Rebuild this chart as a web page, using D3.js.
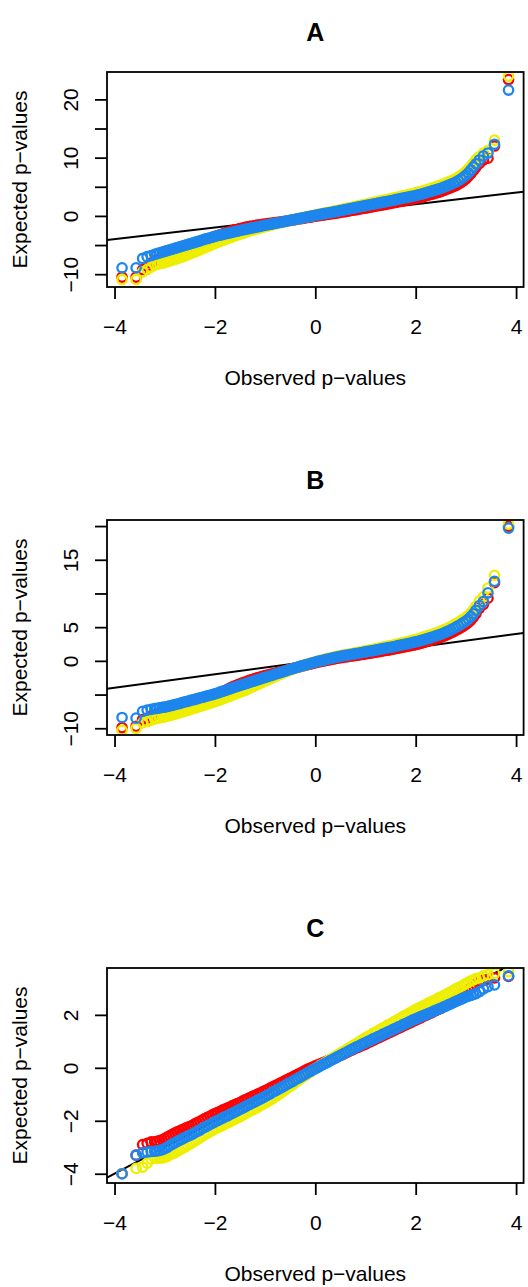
<!DOCTYPE html>
<html>

<head>
  <meta charset="utf-8">
  <title>QQ plots A B C</title>
  <script src="https://d3js.org/d3.v7.min.js"></script>
  <style type="text/css">
    body {
      margin: 0;
      background: #fff;
    }

    svg {
      font-family: "Liberation Sans", Arial, Helvetica, sans-serif;
    }
  </style>
</head>

<body>
  <div id="chart"></div>

  <script type="text/javascript">
    // theoretical normal quantiles (shared x for every series)
    var theoretical = [-3.85, -3.57, -3.44, -3.35, -3.27,
      -3.20, -3.15, -3.10, -3.05, -3.00, -2.95, -2.90, -2.85, -2.80, -2.75,
      -2.70, -2.65, -2.60, -2.55, -2.50, -2.45, -2.40, -2.35, -2.30, -2.25,
      -2.20, -2.15, -2.10, -2.05, -2.00, -1.95, -1.90, -1.85, -1.80, -1.75,
      -1.70, -1.65, -1.60, -1.55, -1.50, -1.45, -1.40, -1.35, -1.30, -1.25,
      -1.20, -1.15, -1.10, -1.05, -1.00, -0.95, -0.90, -0.85, -0.80, -0.75,
      -0.70, -0.65, -0.60, -0.55, -0.50, -0.45, -0.40, -0.35, -0.30, -0.25,
      -0.20, -0.15, -0.10, -0.05, 0.00, 0.05, 0.10, 0.15, 0.20, 0.25,
      0.30, 0.35, 0.40, 0.45, 0.50, 0.55, 0.60, 0.65, 0.70, 0.75,
      0.80, 0.85, 0.90, 0.95, 1.00, 1.05, 1.10, 1.15, 1.20, 1.25,
      1.30, 1.35, 1.40, 1.45, 1.50, 1.55, 1.60, 1.65, 1.70, 1.75,
      1.80, 1.85, 1.90, 1.95, 2.00, 2.05, 2.10, 2.15, 2.20, 2.25,
      2.30, 2.35, 2.40, 2.45, 2.50, 2.55, 2.60, 2.65, 2.70, 2.75,
      2.80, 2.85, 2.90, 2.95, 3.00, 3.05, 3.10, 3.15, 3.20,
      3.27, 3.35, 3.44, 3.57, 3.85];

    // panel A
    var redA = [-10.5, -10.5, -9.2, -8.6, -8.1,
      -7.70, -7.56, -7.40, -7.26, -7.10, -6.93, -6.76, -6.59, -6.42, -6.24,
      -6.06, -5.89, -5.71, -5.53, -5.35, -5.17, -4.98, -4.80, -4.62, -4.43,
      -4.25, -4.08, -3.90, -3.73, -3.55, -3.40, -3.25, -3.10, -2.95, -2.81,
      -2.67, -2.54, -2.40, -2.29, -2.17, -2.07, -1.97, -1.89, -1.81, -1.74,
      -1.66, -1.59, -1.53, -1.46, -1.40, -1.34, -1.28, -1.22, -1.16, -1.10,
      -1.04, -0.98, -0.92, -0.85, -0.78, -0.71, -0.63, -0.56, -0.49, -0.42,
      -0.34, -0.27, -0.20, -0.13, -0.05, 0.01, 0.08, 0.14, 0.21, 0.27,
      0.34, 0.40, 0.47, 0.53, 0.60, 0.68, 0.75, 0.83, 0.90, 0.98,
      1.05, 1.13, 1.20, 1.28, 1.35, 1.43, 1.51, 1.59, 1.67, 1.75,
      1.83, 1.91, 1.99, 2.07, 2.15, 2.23, 2.32, 2.40, 2.49, 2.57,
      2.66, 2.74, 2.83, 2.91, 3.00, 3.10, 3.21, 3.32, 3.44, 3.55,
      3.68, 3.80, 3.93, 4.05, 4.18, 4.33, 4.50, 4.67, 4.85, 5.03,
      5.22, 5.46, 5.73, 6.03, 6.38, 6.80, 7.28, 7.80, 8.35,
      9.0, 9.6, 9.9, 12.0, 23.4];
    var yellowA = [-10.9, -10.9, -9.6, -9.2, -8.8,
      -8.40, -8.31, -8.20, -8.11, -8.00, -7.87, -7.73, -7.60, -7.47, -7.32,
      -7.16, -7.02, -6.86, -6.69, -6.52, -6.36, -6.18, -6.00, -5.82, -5.63,
      -5.45, -5.27, -5.08, -4.89, -4.70, -4.54, -4.38, -4.21, -4.05, -3.89,
      -3.73, -3.58, -3.42, -3.27, -3.12, -2.98, -2.84, -2.71, -2.58, -2.45,
      -2.32, -2.20, -2.08, -1.96, -1.84, -1.73, -1.62, -1.51, -1.40, -1.30,
      -1.19, -1.09, -0.98, -0.88, -0.77, -0.68, -0.58, -0.49, -0.39, -0.31,
      -0.21, -0.12, -0.03, 0.06, 0.16, 0.25, 0.34, 0.43, 0.52, 0.61,
      0.70, 0.79, 0.87, 0.96, 1.05, 1.15, 1.24, 1.34, 1.43, 1.53,
      1.62, 1.72, 1.81, 1.91, 2.00, 2.10, 2.19, 2.29, 2.38, 2.48,
      2.57, 2.67, 2.76, 2.86, 2.95, 3.05, 3.15, 3.25, 3.35, 3.45,
      3.55, 3.65, 3.75, 3.85, 3.95, 4.07, 4.19, 4.32, 4.45, 4.58,
      4.72, 4.86, 5.00, 5.14, 5.28, 5.45, 5.63, 5.82, 6.01, 6.21,
      6.40, 6.66, 6.94, 7.26, 7.63, 8.06, 8.55, 9.08, 9.65,
      10.2, 10.8, 11.2, 13.0, 24.0];
    var blueA = [-8.9, -8.9, -7.3, -7.0, -6.8,
      -6.60, -6.48, -6.35, -6.23, -6.10, -5.97, -5.83, -5.70, -5.57, -5.44,
      -5.31, -5.19, -5.06, -4.93, -4.80, -4.67, -4.53, -4.40, -4.27, -4.13,
      -4.00, -3.88, -3.75, -3.63, -3.50, -3.40, -3.30, -3.20, -3.10, -3.00,
      -2.90, -2.80, -2.70, -2.60, -2.50, -2.41, -2.32, -2.23, -2.14, -2.05,
      -1.96, -1.87, -1.78, -1.69, -1.60, -1.52, -1.43, -1.35, -1.26, -1.18,
      -1.09, -1.01, -0.92, -0.84, -0.75, -0.67, -0.58, -0.50, -0.41, -0.33,
      -0.24, -0.16, -0.07, 0.01, 0.10, 0.18, 0.26, 0.34, 0.42, 0.50,
      0.58, 0.66, 0.74, 0.82, 0.90, 0.99, 1.07, 1.16, 1.24, 1.33,
      1.41, 1.50, 1.58, 1.67, 1.75, 1.84, 1.92, 2.01, 2.09, 2.18,
      2.26, 2.35, 2.43, 2.52, 2.60, 2.69, 2.78, 2.87, 2.96, 3.05,
      3.14, 3.23, 3.32, 3.41, 3.50, 3.61, 3.72, 3.84, 3.96, 4.08,
      4.21, 4.34, 4.47, 4.60, 4.73, 4.89, 5.06, 5.24, 5.42, 5.61,
      5.80, 6.05, 6.32, 6.63, 6.98, 7.40, 7.88, 8.40, 8.95,
      9.6, 10.3, 10.8, 12.3, 21.6];

    // panel B
    var redB = [-9.9, -9.7, -8.7, -8.5, -8.2,
      -8.00, -7.92, -7.83, -7.74, -7.65, -7.55, -7.43, -7.33, -7.20, -7.07,
      -6.94, -6.81, -6.68, -6.55, -6.42, -6.28, -6.15, -6.02, -5.89, -5.76,
      -5.63, -5.49, -5.36, -5.23, -5.10, -4.92, -4.75, -4.57, -4.40, -4.22,
      -4.05, -3.87, -3.70, -3.55, -3.42, -3.28, -3.14, -3.01, -2.87, -2.76,
      -2.65, -2.53, -2.42, -2.31, -2.20, -2.10, -2.01, -1.92, -1.83, -1.73,
      -1.64, -1.54, -1.44, -1.34, -1.24, -1.14, -1.05, -0.95, -0.86, -0.76,
      -0.66, -0.56, -0.47, -0.37, -0.28, -0.20, -0.12, -0.04, 0.04, 0.12,
      0.19, 0.26, 0.33, 0.40, 0.46, 0.52, 0.58, 0.63, 0.69, 0.75,
      0.80, 0.86, 0.92, 0.97, 1.03, 1.09, 1.15, 1.21, 1.28, 1.34,
      1.41, 1.47, 1.54, 1.60, 1.67, 1.73, 1.81, 1.88, 1.96, 2.03,
      2.11, 2.18, 2.26, 2.33, 2.41, 2.50, 2.61, 2.71, 2.82, 2.92,
      3.03, 3.14, 3.26, 3.37, 3.50, 3.64, 3.80, 3.96, 4.14, 4.32,
      4.52, 4.72, 4.94, 5.16, 5.40, 5.70, 6.05, 6.48, 7.00,
      7.8, 8.4, 9.3, 11.6, 20.0];
    var yellowB = [-10.3, -10.0, -9.2, -9.0, -8.8,
      -8.60, -8.53, -8.46, -8.37, -8.30, -8.21, -8.11, -8.01, -7.90, -7.79,
      -7.68, -7.56, -7.45, -7.34, -7.23, -7.11, -7.00, -6.88, -6.76, -6.64,
      -6.53, -6.41, -6.29, -6.17, -6.05, -5.91, -5.77, -5.63, -5.50, -5.36,
      -5.23, -5.08, -4.95, -4.80, -4.65, -4.51, -4.36, -4.19, -4.02, -3.85,
      -3.68, -3.51, -3.34, -3.17, -3.00, -2.83, -2.66, -2.50, -2.33, -2.16,
      -1.99, -1.82, -1.66, -1.51, -1.35, -1.21, -1.07, -0.95, -0.83, -0.71,
      -0.59, -0.47, -0.35, -0.24, -0.13, -0.03, 0.06, 0.16, 0.25, 0.35,
      0.43, 0.52, 0.60, 0.69, 0.76, 0.84, 0.91, 0.98, 1.05, 1.13,
      1.19, 1.27, 1.34, 1.41, 1.48, 1.56, 1.63, 1.71, 1.79, 1.87,
      1.95, 2.03, 2.11, 2.19, 2.27, 2.35, 2.44, 2.53, 2.62, 2.71,
      2.80, 2.89, 2.98, 3.07, 3.16, 3.27, 3.39, 3.51, 3.63, 3.75,
      3.87, 4.00, 4.13, 4.26, 4.40, 4.56, 4.73, 4.91, 5.10, 5.30,
      5.51, 5.73, 5.96, 6.20, 6.45, 6.76, 7.12, 7.56, 8.10,
      8.9, 9.5, 10.8, 12.7, 20.3];
    var blueB = [-8.4, -8.5, -7.5, -7.3, -7.2,
      -7.10, -7.04, -6.98, -6.91, -6.85, -6.77, -6.68, -6.60, -6.50, -6.40,
      -6.30, -6.20, -6.10, -6.00, -5.90, -5.80, -5.70, -5.60, -5.50, -5.40,
      -5.30, -5.20, -5.10, -5.00, -4.90, -4.77, -4.65, -4.52, -4.40, -4.27,
      -4.15, -4.02, -3.90, -3.77, -3.65, -3.53, -3.41, -3.29, -3.17, -3.05,
      -2.93, -2.81, -2.69, -2.57, -2.45, -2.33, -2.21, -2.10, -1.98, -1.86,
      -1.74, -1.62, -1.51, -1.39, -1.27, -1.16, -1.05, -0.94, -0.83, -0.72,
      -0.61, -0.50, -0.39, -0.28, -0.18, -0.09, 0.00, 0.09, 0.18, 0.27,
      0.35, 0.43, 0.51, 0.59, 0.66, 0.73, 0.80, 0.86, 0.93, 1.00,
      1.06, 1.13, 1.20, 1.26, 1.33, 1.40, 1.46, 1.53, 1.60, 1.67,
      1.74, 1.81, 1.88, 1.95, 2.02, 2.09, 2.17, 2.25, 2.33, 2.41,
      2.49, 2.57, 2.65, 2.73, 2.81, 2.91, 3.02, 3.13, 3.24, 3.35,
      3.46, 3.58, 3.70, 3.82, 3.95, 4.10, 4.26, 4.43, 4.61, 4.80,
      5.00, 5.21, 5.43, 5.66, 5.90, 6.20, 6.55, 6.98, 7.50,
      8.2, 8.8, 10.1, 11.8, 19.7];

    // panel C
    var redC = [-4.0, -3.3, -2.9, -2.85, -2.8,
      -2.80, -2.78, -2.75, -2.72, -2.67, -2.62, -2.57, -2.51, -2.47, -2.42,
      -2.38, -2.33, -2.30, -2.25, -2.22, -2.17, -2.12, -2.07, -2.03, -1.97,
      -1.92, -1.87, -1.83, -1.78, -1.73, -1.69, -1.65, -1.60, -1.56, -1.52,
      -1.48, -1.43, -1.39, -1.35, -1.31, -1.26, -1.21, -1.17, -1.12, -1.08,
      -1.04, -1.00, -0.95, -0.91, -0.86, -0.82, -0.77, -0.72, -0.67, -0.63,
      -0.58, -0.54, -0.48, -0.44, -0.39, -0.35, -0.29, -0.25, -0.20, -0.15,
      -0.10, -0.05, -0.01, 0.03, 0.07, 0.11, 0.15, 0.19, 0.23, 0.27,
      0.31, 0.35, 0.39, 0.43, 0.47, 0.51, 0.56, 0.60, 0.65, 0.69,
      0.74, 0.77, 0.82, 0.86, 0.90, 0.95, 0.99, 1.04, 1.08, 1.13,
      1.17, 1.22, 1.26, 1.31, 1.35, 1.40, 1.44, 1.49, 1.53, 1.58,
      1.62, 1.67, 1.71, 1.76, 1.80, 1.85, 1.89, 1.94, 1.98, 2.03,
      2.07, 2.12, 2.16, 2.21, 2.25, 2.31, 2.36, 2.43, 2.49, 2.54,
      2.61, 2.67, 2.74, 2.80, 2.88, 2.95, 3.02, 3.08, 3.15,
      3.25, 3.3, 3.35, 3.4, 3.45];
    var yellowC = [-4.0, -3.8, -3.75, -3.6, -3.45,
      -3.40, -3.41, -3.41, -3.40, -3.38, -3.34, -3.29, -3.24, -3.21, -3.15,
      -3.10, -3.04, -2.99, -2.93, -2.88, -2.82, -2.76, -2.70, -2.65, -2.58,
      -2.52, -2.47, -2.42, -2.36, -2.31, -2.26, -2.22, -2.17, -2.12, -2.08,
      -2.03, -1.98, -1.93, -1.89, -1.84, -1.79, -1.74, -1.68, -1.63, -1.58,
      -1.54, -1.49, -1.43, -1.38, -1.33, -1.27, -1.22, -1.15, -1.09, -1.03,
      -0.97, -0.90, -0.83, -0.76, -0.70, -0.63, -0.56, -0.49, -0.43, -0.35,
      -0.29, -0.22, -0.16, -0.09, -0.03, 0.03, 0.09, 0.14, 0.20, 0.26,
      0.32, 0.38, 0.43, 0.49, 0.55, 0.61, 0.66, 0.72, 0.78, 0.84,
      0.90, 0.95, 1.02, 1.07, 1.13, 1.19, 1.23, 1.30, 1.34, 1.40,
      1.45, 1.51, 1.55, 1.62, 1.66, 1.72, 1.77, 1.83, 1.87, 1.94,
      1.98, 2.04, 2.09, 2.15, 2.20, 2.25, 2.29, 2.34, 2.39, 2.44,
      2.48, 2.53, 2.57, 2.63, 2.67, 2.72, 2.77, 2.82, 2.87, 2.92,
      2.98, 3.03, 3.07, 3.12, 3.18, 3.23, 3.28, 3.32, 3.37,
      3.40, 3.47, 3.52, 3.56, 3.63];
    var blueC = [-4.0, -3.3, -3.2, -3.18, -3.16,
      -3.15, -3.14, -3.12, -3.09, -3.05, -3.00, -2.94, -2.88, -2.83, -2.78,
      -2.73, -2.68, -2.64, -2.59, -2.55, -2.50, -2.45, -2.40, -2.35, -2.29,
      -2.24, -2.19, -2.14, -2.09, -2.04, -1.99, -1.95, -1.90, -1.85, -1.81,
      -1.76, -1.71, -1.66, -1.62, -1.57, -1.52, -1.47, -1.42, -1.37, -1.32,
      -1.28, -1.23, -1.18, -1.13, -1.08, -1.03, -0.98, -0.92, -0.87, -0.82,
      -0.77, -0.72, -0.66, -0.61, -0.56, -0.51, -0.45, -0.40, -0.35, -0.29,
      -0.24, -0.18, -0.13, -0.08, -0.03, 0.02, 0.07, 0.12, 0.17, 0.22,
      0.27, 0.32, 0.37, 0.42, 0.47, 0.52, 0.57, 0.62, 0.67, 0.72,
      0.77, 0.81, 0.86, 0.91, 0.95, 1.00, 1.04, 1.09, 1.13, 1.18,
      1.22, 1.27, 1.31, 1.36, 1.40, 1.45, 1.49, 1.54, 1.58, 1.63,
      1.67, 1.72, 1.76, 1.81, 1.85, 1.89, 1.93, 1.97, 2.01, 2.05,
      2.09, 2.13, 2.17, 2.21, 2.25, 2.29, 2.33, 2.38, 2.42, 2.46,
      2.51, 2.55, 2.59, 2.63, 2.68, 2.71, 2.74, 2.77, 2.80,
      2.88, 2.98, 3.07, 3.13, 3.47];

    var xTicks = [-4, -2, 0, 2, 4];
    var yTicksAB = [-10, -5, 0, 5, 10, 15, 20];
    var yLabelsA = [-10, 0, 10, 20];
    var yLabelsB = [-10, 0, 5, 15];
    var yTicksC = [-4, -2, 0, 2];

    var panels = [
      { title: "A", top: 72, yDomain: [-12.2, 24.7], yTicks: yTicksAB, yLabels: yLabelsA, red: redA, yellow: yellowA, blue: blueA },
      { title: "B", top: 520, yDomain: [-11.0, 20.9], yTicks: yTicksAB, yLabels: yLabelsB, red: redB, yellow: yellowB, blue: blueB },
      { title: "C", top: 968, yDomain: [-4.35, 3.77], yTicks: yTicksC, yLabels: yTicksC, red: redC, yellow: yellowC, blue: blueC }
    ];

    var colors = { red: "#ff0000", yellow: "#eeee00", blue: "#1c86ee" };
    var FONT = '"Liberation Sans", Arial, Helvetica, sans-serif';
    var plotLeft = 107, plotRight = 523.6, plotH = 215;
    var midX = (plotLeft + plotRight) / 2;

    function minus(v) {
      return String(v).replace("-", "\u2212");
    }

    var svg = d3.select("#chart").append("svg")
      .attr("width", 528)
      .attr("height", 1287);

    var x = d3.scaleLinear().domain([-4.15, 4.15]).range([plotLeft, plotRight]);

    panels.forEach(function (p, i) {
      var y = d3.scaleLinear().domain(p.yDomain).range([p.top + plotH, p.top]);
      var g = svg.append("g");

      g.append("clipPath").attr("id", "clip" + i)
        .append("rect")
        .attr("x", plotLeft).attr("y", p.top)
        .attr("width", plotRight - plotLeft).attr("height", plotH);

      var inner = g.append("g").attr("clip-path", "url(#clip" + i + ")");

      // reference line y = x
      inner.append("line")
        .attr("x1", x(-4.15)).attr("y1", y(-4.15))
        .attr("x2", x(4.15)).attr("y2", y(4.15))
        .attr("stroke", "#000")
        .attr("stroke-width", 2);

      ["red", "yellow", "blue"].forEach(function (s) {
        var pts = theoretical.map(function (q, k) { return [q, p[s][k]]; });
        inner.append("g").selectAll("circle")
          .data(pts)
          .enter().append("circle")
          .attr("cx", function (d) { return x(d[0]); })
          .attr("cy", function (d) { return y(d[1]); })
          .attr("r", 4.7)
          .attr("fill", "none")
          .attr("stroke", colors[s])
          .attr("stroke-width", 2.3);
      });

      g.append("rect")
        .attr("x", plotLeft).attr("y", p.top)
        .attr("width", plotRight - plotLeft).attr("height", plotH)
        .attr("fill", "none")
        .attr("stroke", "#000")
        .attr("stroke-width", 1.8);

      // x axis
      var xa = g.append("g")
        .attr("transform", "translate(0," + (p.top + plotH) + ")")
        .call(d3.axisBottom(x).tickValues(xTicks).tickSize(12).tickFormat(minus));
      xa.select(".domain").remove();
      xa.attr("font-size", 21).attr("font-family", FONT);
      xa.selectAll("line").attr("stroke-width", 1.8);
      xa.selectAll("text").attr("y", 46.5).attr("dy", null).attr("fill", "#000");

      // y axis, labels parallel to the axis
      var ya = g.append("g")
        .attr("transform", "translate(" + plotLeft + ",0)")
        .call(d3.axisLeft(y).tickValues(p.yTicks).tickSize(12)
          .tickFormat(function (d) { return p.yLabels.indexOf(d) >= 0 ? minus(d) : ""; }));
      ya.select(".domain").remove();
      ya.attr("font-size", 21).attr("font-family", FONT);
      ya.selectAll("line").attr("stroke-width", 1.8);
      ya.selectAll("text")
        .attr("x", 0).attr("y", -29).attr("dy", null)
        .attr("text-anchor", "middle")
        .attr("transform", "rotate(-90)")
        .attr("fill", "#000");

      g.append("text")
        .attr("x", midX).attr("y", p.top - 31)
        .attr("text-anchor", "middle")
        .attr("font-size", 25).attr("font-weight", "bold")
        .text(p.title);

      g.append("text")
        .attr("x", midX).attr("y", p.top + plotH + 98)
        .attr("text-anchor", "middle")
        .attr("font-size", 21)
        .text("Observed p\u2212values");

      g.append("text")
        .attr("transform", "translate(26.5," + (p.top + plotH / 2) + ") rotate(-90)")
        .attr("text-anchor", "middle")
        .attr("font-size", 21)
        .text("Expected p\u2212values");
    });
  </script>
</body>

</html>
